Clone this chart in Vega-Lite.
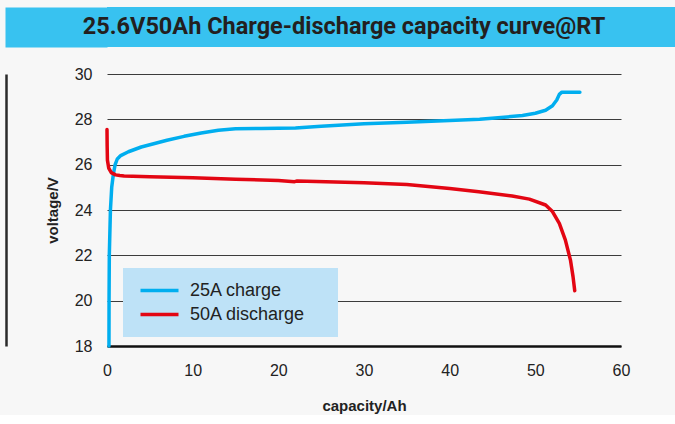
{
  "$schema": "https://vega.github.io/schema/vega-lite/v6.json",
  "background": "#f7f7f7",
  "padding": {"left": 6, "top": 7, "right": 0, "bottom": 2},
  "spacing": 19,
  "config": {"view": {"stroke": null}, "font": "Liberation Sans"},
  "resolve": {"scale": {"color": "independent"}, "legend": {"color": "independent"}},
  "datasets": {
    "heading": [{"label": "25.6V50Ah Charge-discharge capacity curve@RT"}],
    "curves": [
      {"series": "25A charge", "capacity": 0.23, "voltage": 18.0},
      {"series": "25A charge", "capacity": 0.24, "voltage": 20.0},
      {"series": "25A charge", "capacity": 0.27, "voltage": 22.0},
      {"series": "25A charge", "capacity": 0.4, "voltage": 24.0},
      {"series": "25A charge", "capacity": 0.55, "voltage": 25.0},
      {"series": "25A charge", "capacity": 0.75, "voltage": 25.6},
      {"series": "25A charge", "capacity": 0.95, "voltage": 26.0},
      {"series": "25A charge", "capacity": 1.2, "voltage": 26.25},
      {"series": "25A charge", "capacity": 1.6, "voltage": 26.4},
      {"series": "25A charge", "capacity": 2.5, "voltage": 26.57},
      {"series": "25A charge", "capacity": 4.0, "voltage": 26.78},
      {"series": "25A charge", "capacity": 5.0, "voltage": 26.88},
      {"series": "25A charge", "capacity": 7.0, "voltage": 27.08},
      {"series": "25A charge", "capacity": 9.0, "voltage": 27.25},
      {"series": "25A charge", "capacity": 11.0, "voltage": 27.4},
      {"series": "25A charge", "capacity": 13.0, "voltage": 27.52},
      {"series": "25A charge", "capacity": 15.0, "voltage": 27.58},
      {"series": "25A charge", "capacity": 18.0, "voltage": 27.6},
      {"series": "25A charge", "capacity": 22.0, "voltage": 27.62},
      {"series": "25A charge", "capacity": 25.0, "voltage": 27.7},
      {"series": "25A charge", "capacity": 30.0, "voltage": 27.8},
      {"series": "25A charge", "capacity": 35.0, "voltage": 27.87},
      {"series": "25A charge", "capacity": 40.0, "voltage": 27.95},
      {"series": "25A charge", "capacity": 43.5, "voltage": 28.0},
      {"series": "25A charge", "capacity": 46.0, "voltage": 28.08},
      {"series": "25A charge", "capacity": 48.5, "voltage": 28.17},
      {"series": "25A charge", "capacity": 50.0, "voltage": 28.27},
      {"series": "25A charge", "capacity": 51.2, "voltage": 28.4},
      {"series": "25A charge", "capacity": 52.0, "voltage": 28.6},
      {"series": "25A charge", "capacity": 52.5, "voltage": 28.85},
      {"series": "25A charge", "capacity": 52.8, "voltage": 29.1},
      {"series": "25A charge", "capacity": 53.1, "voltage": 29.2},
      {"series": "25A charge", "capacity": 55.2, "voltage": 29.2},
      {"series": "50A discharge", "capacity": 0.0, "voltage": 27.55},
      {"series": "50A discharge", "capacity": 0.02, "voltage": 26.8},
      {"series": "50A discharge", "capacity": 0.05, "voltage": 26.2},
      {"series": "50A discharge", "capacity": 0.2, "voltage": 25.85},
      {"series": "50A discharge", "capacity": 0.5, "voltage": 25.65},
      {"series": "50A discharge", "capacity": 1.0, "voltage": 25.55},
      {"series": "50A discharge", "capacity": 1.5, "voltage": 25.52},
      {"series": "50A discharge", "capacity": 2.0, "voltage": 25.5},
      {"series": "50A discharge", "capacity": 5.0, "voltage": 25.47},
      {"series": "50A discharge", "capacity": 10.0, "voltage": 25.42},
      {"series": "50A discharge", "capacity": 15.0, "voltage": 25.36},
      {"series": "50A discharge", "capacity": 20.0, "voltage": 25.3},
      {"series": "50A discharge", "capacity": 21.9, "voltage": 25.25},
      {"series": "50A discharge", "capacity": 22.2, "voltage": 25.28},
      {"series": "50A discharge", "capacity": 30.0, "voltage": 25.2},
      {"series": "50A discharge", "capacity": 35.0, "voltage": 25.13},
      {"series": "50A discharge", "capacity": 40.0, "voltage": 24.95},
      {"series": "50A discharge", "capacity": 43.4, "voltage": 24.81},
      {"series": "50A discharge", "capacity": 47.3, "voltage": 24.62},
      {"series": "50A discharge", "capacity": 49.3, "voltage": 24.48},
      {"series": "50A discharge", "capacity": 51.2, "voltage": 24.22},
      {"series": "50A discharge", "capacity": 52.0, "voltage": 23.93},
      {"series": "50A discharge", "capacity": 52.8, "voltage": 23.41},
      {"series": "50A discharge", "capacity": 53.5, "voltage": 22.68},
      {"series": "50A discharge", "capacity": 54.1, "voltage": 21.79},
      {"series": "50A discharge", "capacity": 54.4, "voltage": 21.06},
      {"series": "50A discharge", "capacity": 54.6, "voltage": 20.44}
    ]
  },
  "vconcat": [
    {
      "width": 568,
      "height": 40,
      "view": {"fill": "#38c2f0", "stroke": null},
      "data": {"name": "heading"},
      "mark": {"type": "text", "font": "Roboto", "fontWeight": "bold", "fontSize": 23.5, "fill": "#231f20", "align": "center", "baseline": "middle", "dx": -47},
      "encoding": {
        "text": {"field": "label", "type": "nominal"},
        "y": {"field": "label", "type": "nominal", "axis": {"orient": "left", "offset": 51, "title": null, "labels": false, "ticks": false, "grid": false, "domain": true, "domainColor": "#38c2f0", "domainWidth": 102, "domainCap": "butt"}}
      }
    },
    {
      "width": 514,
      "height": 272,
      "data": {"name": "curves"},
      "layer": [
        {
          "transform": [{"filter": "datum.series == '25A charge'"}],
          "mark": {"type": "line", "strokeWidth": 3.5, "strokeCap": "round", "strokeJoin": "round"},
          "encoding": {
            "x": {"field": "capacity", "type": "quantitative", "scale": {"domain": [0, 60], "nice": false, "zero": false},
              "axis": {"title": "capacity/Ah", "values": [0, 10, 20, 30, 40, 50, 60], "labelFlush": false, "grid": false, "domain": true, "domainColor": "#111111", "domainWidth": 2.5, "ticks": false, "tickSize": 0, "labelPadding": 16, "labelFontSize": 16, "labelFont": "Liberation Sans", "labelColor": "#222222", "titleFont": "Liberation Sans", "titleFontWeight": "bold", "titleFontSize": 15, "titleColor": "#222222", "titlePadding": 20}},
            "y": {"field": "voltage", "type": "quantitative", "scale": {"domain": [18, 30], "nice": false, "zero": false},
              "axis": {"orient": "left", "title": "voltage/V", "values": [18, 20, 22, 24, 26, 28, 30], "labelFlush": false, "grid": true, "gridColor": "#3c3c3c", "gridWidth": 1, "domain": false, "ticks": false, "tickSize": 0, "labelPadding": 15, "labelFontSize": 16, "labelFont": "Liberation Sans", "labelColor": "#222222", "titleFont": "Liberation Sans", "titleFontWeight": "bold", "titleFontSize": 15, "titleColor": "#222222", "titlePadding": 14}},
            "color": {"field": "series", "type": "nominal",
              "scale": {"domain": ["25A charge", "50A discharge"], "range": ["#00aeef", "#e30613"]},
              "legend": {"orient": "none", "legendX": 16, "legendY": 194, "title": " ", "titleOrient": "right", "titlePadding": 18.5, "titleFontSize": 17, "fillColor": "#bee2f7", "padding": 13.5, "rowPadding": 6, "symbolType": "M-4,0H4", "symbolSize": 90.25, "symbolStrokeWidth": 3.5, "symbolOffset": 14, "labelOffset": 21.5, "labelFontSize": 18, "labelFont": "Liberation Sans", "labelColor": "#222222"}}
          }
        },
        {
          "transform": [{"filter": "datum.series == '50A discharge'"}],
          "mark": {"type": "line", "strokeWidth": 3.5, "strokeCap": "round", "strokeJoin": "round"},
          "encoding": {
            "x": {"field": "capacity", "type": "quantitative", "scale": {"domain": [0, 60], "nice": false, "zero": false}},
            "y": {"field": "voltage", "type": "quantitative", "scale": {"domain": [18, 30], "nice": false, "zero": false},
              "axis": {"orient": "left", "offset": 101, "title": null, "labels": false, "ticks": false, "grid": false, "domain": true, "domainColor": "#2a2a2a", "domainWidth": 2.5}},
            "color": {"field": "series", "type": "nominal", "scale": {"domain": ["25A charge", "50A discharge"], "range": ["#00aeef", "#e30613"]}}
          }
        }
      ],
      "resolve": {"axis": {"y": "independent"}}
    }
  ]
}
